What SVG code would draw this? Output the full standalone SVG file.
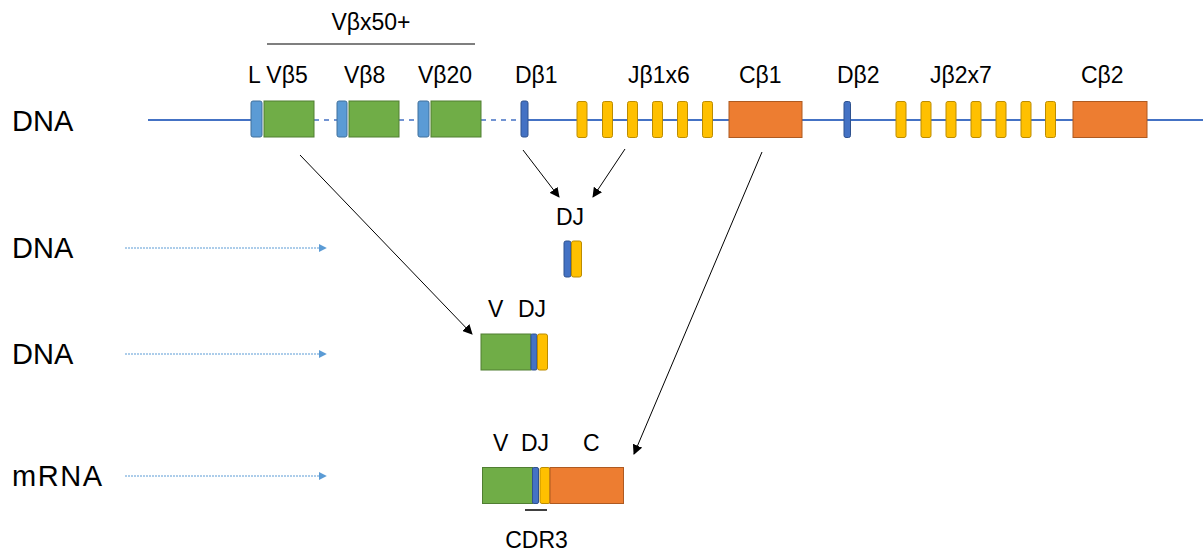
<svg xmlns="http://www.w3.org/2000/svg" width="1203" height="551" viewBox="0 0 1203 551">
<defs>
<style>
.lbl{font-family:"Liberation Sans",Arial,sans-serif;font-size:23px;fill:#000}
.big{font-family:"Liberation Sans",Arial,sans-serif;font-size:29px;fill:#000}
.g{fill:#70AD47;stroke:#507E32;stroke-width:1}
.l{fill:#5B9BD5;stroke:#41719C;stroke-width:1}
.d{fill:#4472C4;stroke:#2F528F;stroke-width:1}
.y{fill:#FFC000;stroke:#BC8C00;stroke-width:1}
.o{fill:#ED7D31;stroke:#AE5A21;stroke-width:1}
.chr{stroke:#4472C4;stroke-width:2;fill:none}
.dash{stroke:#4472C4;stroke-width:1.5;stroke-dasharray:5,5;fill:none}
.arr{stroke:#000;stroke-width:1;fill:none;marker-end:url(#ah)}
.blu{stroke:#5B9BD5;stroke-width:1;stroke-dasharray:2,1;fill:none;marker-end:url(#bh)}
</style>
<marker id="ah" viewBox="0 0 10 10" refX="9" refY="5" markerWidth="10" markerHeight="10" markerUnits="userSpaceOnUse" orient="auto"><path d="M0,0 L10,5 L0,10 z" fill="#000"/></marker>
<marker id="bh" viewBox="0 0 10 10" refX="9" refY="5" markerWidth="8" markerHeight="8" markerUnits="userSpaceOnUse" orient="auto"><path d="M0,0 L10,5 L0,10 z" fill="#5B9BD5"/></marker>
</defs>
<rect width="1203" height="551" fill="#fff"/>

<g id="row-labels">
<text class="big" x="12" y="131">DNA</text>
<text class="big" x="12" y="258">DNA</text>
<text class="big" x="12" y="364">DNA</text>
<text class="big" x="12" y="486" textLength="90">mRNA</text>
</g>

<g id="chromosome">
<line class="chr" x1="148" y1="120" x2="251" y2="120"/>
<line class="dash" x1="314" y1="120" x2="337" y2="120"/>
<line class="dash" x1="399" y1="120" x2="418" y2="120"/>
<line class="dash" x1="481" y1="120" x2="521" y2="120"/>
<line class="chr" x1="528" y1="120" x2="1203" y2="120"/>
</g>

<g id="Vb-group">
<line x1="267" y1="44" x2="475" y2="44" stroke="#000" stroke-width="1.2"/>
<text class="lbl" x="371" y="30" text-anchor="middle">Vβx50+</text>
</g>

<g id="Vb5">
<rect class="l" x="251" y="101" width="11" height="36" rx="2"/>
<rect class="g" x="264" y="101" width="50" height="36"/>
<text class="lbl" x="248" y="83">L Vβ5</text>
</g>
<g id="Vb8">
<rect class="l" x="337" y="101" width="10" height="36" rx="2"/>
<rect class="g" x="349" y="101" width="50" height="36"/>
<text class="lbl" x="344" y="83">Vβ8</text>
</g>
<g id="Vb20">
<rect class="l" x="418" y="101" width="11" height="36" rx="2"/>
<rect class="g" x="431" y="101" width="50" height="36"/>
<text class="lbl" x="418" y="83">Vβ20</text>
</g>
<g id="Db1">
<rect class="d" x="521" y="101" width="7" height="36" rx="2"/>
<text class="lbl" x="515" y="83">Dβ1</text>
</g>
<g id="Jb1">
<rect class="y" x="577" y="101.5" width="10" height="36" rx="2"/>
<rect class="y" x="602.5" y="101.5" width="10" height="36" rx="2"/>
<rect class="y" x="627.5" y="101.5" width="10" height="36" rx="2"/>
<rect class="y" x="652.5" y="101.5" width="10" height="36" rx="2"/>
<rect class="y" x="677.5" y="101.5" width="10" height="36" rx="2"/>
<rect class="y" x="702.5" y="101.5" width="10" height="36" rx="2"/>
<text class="lbl" x="628" y="83">Jβ1x6</text>
</g>
<g id="Cb1">
<rect class="o" x="729" y="101.5" width="73" height="36"/>
<text class="lbl" x="739" y="83">Cβ1</text>
</g>
<g id="Db2">
<rect class="d" x="844" y="101.5" width="6.5" height="36" rx="2"/>
<text class="lbl" x="837" y="83">Dβ2</text>
</g>
<g id="Jb2">
<rect class="y" x="896" y="101.5" width="10" height="36" rx="2"/>
<rect class="y" x="921" y="101.5" width="10" height="36" rx="2"/>
<rect class="y" x="946" y="101.5" width="10" height="36" rx="2"/>
<rect class="y" x="971" y="101.5" width="10" height="36" rx="2"/>
<rect class="y" x="996" y="101.5" width="10" height="36" rx="2"/>
<rect class="y" x="1021" y="101.5" width="10" height="36" rx="2"/>
<rect class="y" x="1045.5" y="101.5" width="10" height="36" rx="2"/>
<text class="lbl" x="930" y="83">Jβ2x7</text>
</g>
<g id="Cb2">
<rect class="o" x="1073" y="101.5" width="74" height="36"/>
<text class="lbl" x="1081" y="83">Cβ2</text>
</g>

<g id="DJ">
<text class="lbl" x="556" y="225">DJ</text>
<rect class="d" x="564" y="241" width="7" height="36" rx="2"/>
<rect class="y" x="571.5" y="241" width="10" height="36" rx="2"/>
</g>

<g id="VDJ">
<text class="lbl" x="488" y="317">V</text>
<text class="lbl" x="518" y="317">DJ</text>
<rect class="g" x="481" y="334" width="50" height="36"/>
<rect class="d" x="531" y="334" width="6" height="36" rx="1.5"/>
<rect class="y" x="537.5" y="334" width="10" height="36" rx="2"/>
</g>

<g id="VDJC">
<text class="lbl" x="493" y="451">V</text>
<text class="lbl" x="521" y="451">DJ</text>
<text class="lbl" x="583" y="451">C</text>
<rect class="g" x="482.5" y="467.5" width="50" height="36"/>
<rect class="d" x="532.5" y="467.5" width="6" height="36" rx="1.5"/>
<rect class="y" x="540" y="467.5" width="10" height="36" rx="2"/>
<rect class="o" x="550" y="467.5" width="73.5" height="36"/>
<line x1="525" y1="510" x2="547" y2="510" stroke="#000" stroke-width="1.5"/>
<text class="lbl" x="536.5" y="548" text-anchor="middle">CDR3</text>
</g>

<g id="connectors">
<line class="arr" x1="523" y1="150" x2="559" y2="197"/>
<line class="arr" x1="625" y1="149" x2="593" y2="197"/>
<line class="arr" x1="300" y1="155" x2="472" y2="334"/>
<line class="arr" x1="762" y1="152" x2="634" y2="454"/>
<line class="blu" x1="125" y1="248" x2="326" y2="248"/>
<line class="blu" x1="125" y1="354" x2="326" y2="354"/>
<line class="blu" x1="125" y1="476" x2="326" y2="476"/>
</g>
</svg>
